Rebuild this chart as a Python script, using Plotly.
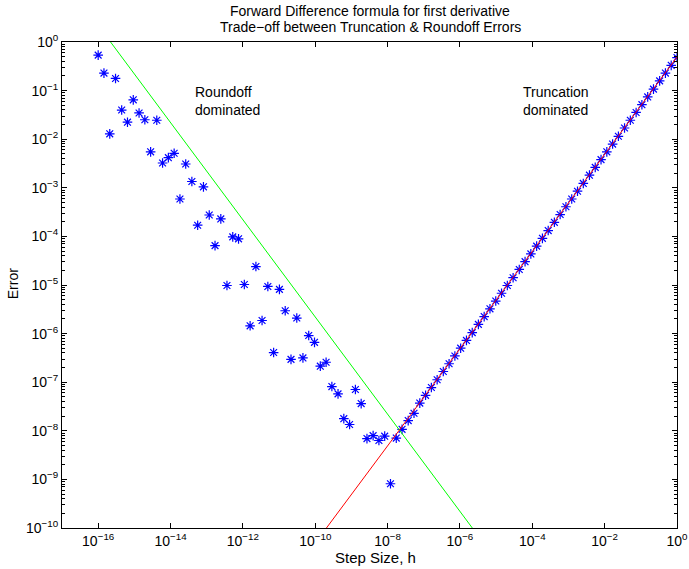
import plotly.graph_objects as go

# log10 of step size h
h_exp = [-16.00, -15.84, -15.68, -15.52, -15.35, -15.19, -15.03, -14.87, -14.71, -14.55,
         -14.38, -14.22, -14.06, -13.90, -13.74, -13.58, -13.41, -13.25, -13.09, -12.93,
         -12.77, -12.61, -12.44, -12.28, -12.12, -11.96, -11.80, -11.64, -11.47, -11.31,
         -11.15, -10.99, -10.83, -10.67, -10.51, -10.34, -10.18, -10.02, -9.86, -9.70,
         -9.54, -9.37, -9.21, -9.05, -8.89, -8.73, -8.57, -8.40, -8.24, -8.08,
         -7.92, -7.76, -7.60, -7.43, -7.27, -7.11, -6.95, -6.79, -6.63, -6.46,
         -6.30, -6.14, -5.98, -5.82, -5.66, -5.49, -5.33, -5.17, -5.01, -4.85,
         -4.69, -4.53, -4.36, -4.20, -4.04, -3.88, -3.72, -3.56, -3.39, -3.23,
         -3.07, -2.91, -2.75, -2.59, -2.42, -2.26, -2.10, -1.94, -1.78, -1.62,
         -1.45, -1.29, -1.13, -0.97, -0.81, -0.65, -0.48, -0.32, -0.16, 0.00]

# log10 of measured error
err_exp = [-0.27, -0.64, -1.89, -0.75, -1.40, -1.65, -1.19, -1.46, -1.60, -2.26,
           -1.61, -2.49, -2.38, -2.29, -3.23, -2.51, -2.87, -3.77, -2.98, -3.56,
           -4.19, -3.64, -5.01, -4.01, -4.05, -4.99, -5.84, -4.62, -5.73, -5.03,
           -6.39, -5.09, -5.53, -6.53, -5.68, -6.50, -6.04, -6.18, -6.67, -6.59,
           -7.09, -7.24, -7.75, -7.87, -7.15, -7.44, -8.16, -8.10, -8.20, -8.11,
           -9.09, -8.15, -7.97, -7.79, -7.64, -7.43, -7.27, -7.11, -6.95, -6.78,
           -6.62, -6.46, -6.30, -6.14, -5.98, -5.81, -5.65, -5.49, -5.33, -5.17,
           -5.01, -4.85, -4.68, -4.52, -4.36, -4.20, -4.04, -3.88, -3.71, -3.55,
           -3.39, -3.23, -3.07, -2.91, -2.74, -2.58, -2.42, -2.26, -2.10, -1.94,
           -1.77, -1.61, -1.45, -1.29, -1.13, -0.97, -0.80, -0.64, -0.48, -0.32]

# reference lines (endpoints)
round_h = [1e-16, 1.0]
round_err = [2.2, 2.2e-16]
trunc_h = [1e-12, 1.0]
trunc_err = [4.9e-13, 0.49]

# tick labels
x_tick_exp = [-16, -14, -12, -10, -8, -6, -4, -2, 0]
y_tick_exp = [0, -1, -2, -3, -4, -5, -6, -7, -8, -9, -10]


def pow_label(e):
    s = str(e).replace("-", "\u2212")
    return "10<sup>" + s + "</sup>"


h = [10 ** e for e in h_exp]
err = [10 ** e for e in err_exp]

x_tick_vals = [10.0 ** e for e in x_tick_exp]
x_tick_text = [pow_label(e) for e in x_tick_exp]
y_tick_vals = [10.0 ** e for e in y_tick_exp]
y_tick_text = [pow_label(e) for e in y_tick_exp]
y_minor_vals = [m * 10.0 ** e for e in range(-10, 0) for m in range(2, 10)]

FONT = "Liberation Sans, Arial, Helvetica, sans-serif"

fig = go.Figure()
fig.add_trace(go.Scatter(x=h, y=err, mode="markers",
                         marker=dict(symbol="asterisk-open", size=8, color="#0000ff",
                                     line=dict(color="#0000ff", width=1.2)),
                         showlegend=False))
fig.add_trace(go.Scatter(x=round_h, y=round_err, mode="lines",
                         line=dict(color="#00ff00", width=1), showlegend=False))
fig.add_trace(go.Scatter(x=trunc_h, y=trunc_err, mode="lines",
                         line=dict(color="#ff0000", width=1), showlegend=False))

axis_common = dict(showline=True, linecolor="black", linewidth=1, mirror="allticks",
                   ticks="inside", tickcolor="black", ticklen=5, showgrid=False,
                   zeroline=False, automargin=False,
                   tickfont=dict(family=FONT, size=14, color="black"))

fig.update_xaxes(type="log", range=[-17, 0], tickmode="array",
                 tickvals=x_tick_vals, ticktext=x_tick_text, **axis_common)
fig.update_yaxes(type="log", range=[-10, 0], tickmode="array",
                 tickvals=y_tick_vals, ticktext=y_tick_text,
                 minor=dict(tickmode="array", tickvals=y_minor_vals, ticks="inside",
                            ticklen=3, tickcolor="black", showgrid=False),
                 **axis_common)

fig.update_layout(
    width=689, height=569,
    margin=dict(l=62, r=12, t=42, b=41),
    paper_bgcolor="white", plot_bgcolor="white",
    font=dict(family=FONT, size=14, color="black"),
    annotations=[
        dict(text="Forward Difference formula for first derivative", x=0.5015, y=1.0638,
             xref="paper", yref="paper", xanchor="center", yanchor="middle",
             showarrow=False, font=dict(family=FONT, size=14, color="black")),
        dict(text="Trade\u2212off between Truncation & Roundoff Errors", x=0.5015, y=1.0309,
             xref="paper", yref="paper", xanchor="center", yanchor="middle",
             showarrow=False, font=dict(family=FONT, size=14, color="black")),
        dict(text="Roundoff<br>dominated", x=-13.39, y=-1.21, xref="x", yref="y",
             xanchor="left", yanchor="middle", align="left", showarrow=False,
             font=dict(family=FONT, size=14, color="black")),
        dict(text="Truncation<br>dominated", x=-4.32, y=-1.21, xref="x", yref="y",
             xanchor="left", yanchor="middle", align="left", showarrow=False,
             font=dict(family=FONT, size=14, color="black")),
        dict(text="Step Size, h", x=0.509, y=-0.0617, xref="paper", yref="paper",
             xanchor="center", yanchor="middle", showarrow=False,
             font=dict(family=FONT, size=15, color="black")),
        dict(text="Error", x=-0.0797, y=0.5035, xref="paper", yref="paper",
             xanchor="center", yanchor="middle", textangle=-90, showarrow=False,
             font=dict(family=FONT, size=14, color="black")),
    ],
)

# remove the default page margin so the figure sits at the window's top-left corner
fig.write_html("out.html",
               config={"displayModeBar": False},
               post_script="document.body.style.margin='0px';document.body.style.overflow='hidden';")
